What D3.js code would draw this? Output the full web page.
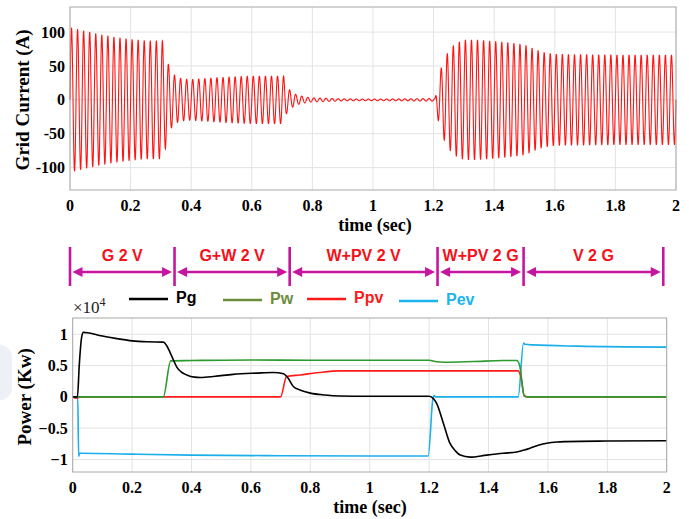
<!DOCTYPE html>
<html>
<head>
<meta charset="utf-8">
<script src="https://cdn.jsdelivr.net/npm/d3@7"></script>
<style>
  body { margin: 0; background: #fff; }
  svg { display: block; }
</style>
</head>
<body>
<svg id="chart" width="689" height="519"></svg>
<script>
// grid current envelope (A); carrier is the 50 Hz grid
const gridFreq = 50;
const envTime = [0, 0.005, 0.05, 0.1, 0.15, 0.2, 0.25, 0.305, 0.315, 0.325, 0.335, 0.35, 0.37, 0.4, 0.5, 0.6, 0.705,
  0.715, 0.73, 0.75, 0.78, 0.8, 0.9, 1.0, 1.1, 1.205, 1.215, 1.23, 1.25, 1.27, 1.3, 1.35, 1.4, 1.45, 1.5, 1.53, 1.56, 1.6, 1.8, 2.0];
const envAmp = [105, 106, 101, 96, 92, 89, 87, 87, 72, 52, 41, 34, 31, 30, 33, 35, 35,
  20, 12, 7, 4, 3, 1.5, 1.2, 1.5, 2, 30, 55, 72, 82, 88, 88, 86, 84, 81, 75, 70, 67, 66, 66];

const timeTicks = [0, 0.2, 0.4, 0.6, 0.8, 1, 1.2, 1.4, 1.6, 1.8, 2];
const currentTicks = [-100, -50, 0, 50, 100];
const powerTicks = [-1, -0.5, 0, 0.5, 1];

// power curves, x10^4 kW
const pgData = [[0,0],[0.016,0],[0.022,0.5],[0.03,0.95],[0.036,1.03],[0.05,1.025],[0.09,0.98],[0.15,0.93],[0.2,0.895],
  [0.25,0.88],[0.305,0.875],[0.315,0.83],[0.327,0.72],[0.34,0.58],[0.35,0.48],[0.365,0.4],[0.384,0.35],[0.41,0.315],
  [0.43,0.31],[0.48,0.33],[0.54,0.36],[0.62,0.38],[0.675,0.39],[0.71,0.37],[0.725,0.3],[0.743,0.165],[0.765,0.11],
  [0.8,0.06],[0.85,0.03],[0.9,0.015],[1.0,0.01],[1.1,0.01],[1.2,0.01],[1.215,-0.03],[1.225,-0.1],[1.248,-0.42],
  [1.27,-0.74],[1.29,-0.87],[1.305,-0.93],[1.338,-0.963],[1.394,-0.93],[1.45,-0.9],[1.495,-0.88],[1.52,-0.85],
  [1.54,-0.82],[1.57,-0.77],[1.596,-0.74],[1.63,-0.72],[1.663,-0.714],[1.8,-0.705],[2.0,-0.70]];
const pwData = [[0,0],[0.305,0],[0.33,0.575],[0.4,0.58],[0.6,0.59],[0.8,0.585],[1.0,0.585],[1.2,0.585],[1.225,0.56],
  [1.25,0.554],[1.35,0.565],[1.45,0.58],[1.495,0.58],[1.505,0.5],[1.52,0.02],[1.53,0],[2,0]];
const ppvData = [[0,0],[0.01,-0.02],[0.02,-0.01],[0.03,0],[0.7,0],[0.72,0.325],[0.765,0.35],[0.83,0.39],[0.9,0.415],
  [1.2,0.415],[1.5,0.415],[1.51,0.3],[1.52,0.02],[1.53,0],[2,0]];
const pevData = [[0,0],[0.017,0],[0.02,-0.95],[0.023,-0.9],[0.03,-0.9],[0.2,-0.915],[0.4,-0.93],[0.7,-0.94],[1.0,-0.945],
  [1.197,-0.945],[1.213,-0.02],[1.217,0.02],[1.222,0],[1.5,0],[1.518,0.86],[1.523,0.84],[1.55,0.83],[1.7,0.81],[2,0.795]];

const seriesNames = ["Pg", "Pw", "Ppv", "Pev"];

// operating modes along the time axis
const modeLabels = ["G 2 V", "G+W 2 V", "W+PV 2 V", "W+PV 2 G", "V 2 G"];
const modeBounds = [0, 0.345, 0.725, 1.213, 1.497, 1.958];

const svg = d3.select("#chart");
const serif = "'Liberation Serif', 'Times New Roman', serif";
const sans = "'Liberation Sans', Arial, sans-serif";
const gridColor = "#e3e3e3";
const boxColor = "#a8a8a8";

function drawFrame(x, y, yTicks, yFmt, tickBase) {
  const g = svg.append("g");
  const [x0, x1] = x.range();
  const [y0, y1] = y.range();
  g.append("rect").attr("x", x0).attr("y", y1).attr("width", x1 - x0).attr("height", y0 - y1).attr("fill", "#fff");
  g.selectAll(".vg").data(timeTicks).enter().append("line")
    .attr("x1", d => x(d)).attr("x2", d => x(d)).attr("y1", y1).attr("y2", y0)
    .attr("stroke", gridColor).attr("stroke-width", 1);
  g.selectAll(".hg").data(yTicks).enter().append("line")
    .attr("x1", x0).attr("x2", x1).attr("y1", d => y(d)).attr("y2", d => y(d))
    .attr("stroke", gridColor).attr("stroke-width", 1);
  // tick labels
  g.selectAll(".xt").data(timeTicks).enter().append("text")
    .attr("x", d => x(d)).attr("y", tickBase)
    .attr("text-anchor", "middle")
    .style("font-family", serif).style("font-weight", "bold").style("font-size", "16px")
    .text(d => d3.format("~g")(d));
  g.selectAll(".yt").data(yTicks).enter().append("text")
    .attr("x", x0 - 5).attr("y", d => y(d)).attr("dy", "0.35em")
    .attr("text-anchor", "end")
    .style("font-family", serif).style("font-weight", "bold").style("font-size", "16px")
    .text(yFmt);
  return g;
}

function drawBox(x, y) {
  const [x0, x1] = x.range();
  const [y0, y1] = y.range();
  svg.append("rect").attr("x", x0).attr("y", y1).attr("width", x1 - x0).attr("height", y0 - y1)
    .attr("fill", "none").attr("stroke", boxColor).attr("stroke-width", 1);
}

// faint watermark at left edge of the lower panel
svg.append("rect").attr("x", -14).attr("y", 345).attr("width", 26).attr("height", 55).attr("rx", 12)
  .attr("fill", "#eef0f8");

// ---------- top: grid current ----------
const xTop = d3.scaleLinear().domain([0, 2]).range([70, 676]);
const yTop = d3.scaleLinear().domain([-133, 137]).range([190, 7]);
drawFrame(xTop, yTop, currentTicks, d => d, 211);

const envelope = d3.scaleLinear().domain(envTime).range(envAmp);
const waveTimes = d3.range(0, 2.00001, 0.0004);
const wave = waveTimes.map(t => [t, envelope(t) * Math.sin(2 * Math.PI * gridFreq * t)]);
svg.append("path")
  .datum(wave)
  .attr("fill", "none")
  .attr("stroke", "#ff1414")
  .attr("stroke-width", 1.1)
  .attr("d", d3.line().x(d => xTop(d[0])).y(d => yTop(d[1])));
drawBox(xTop, yTop);

svg.append("text")
  .attr("transform", `translate(29,${yTop(0)}) rotate(-90)`)
  .attr("text-anchor", "middle")
  .style("font-family", serif).style("font-weight", "bold").style("font-size", "19px")
  .text("Grid Current (A)");
svg.append("text")
  .attr("x", 375).attr("y", 231)
  .attr("text-anchor", "middle")
  .style("font-family", serif).style("font-weight", "bold").style("font-size", "18px")
  .text("time (sec)");

// ---------- mode annotation ----------
const magenta = "#c4169e";
const ann = svg.append("g");
ann.selectAll(".bound").data(modeBounds).enter().append("line")
  .attr("x1", d => xTop(d)).attr("x2", d => xTop(d))
  .attr("y1", 247).attr("y2", 286)
  .attr("stroke", magenta).attr("stroke-width", 2.6);
const arrowY = 272;
modeLabels.forEach((label, i) => {
  const a = xTop(modeBounds[i]) + 2.5;
  const b = xTop(modeBounds[i + 1]) - 2.5;
  ann.append("line").attr("x1", a + 6).attr("x2", b - 6).attr("y1", arrowY).attr("y2", arrowY)
    .attr("stroke", magenta).attr("stroke-width", 2.6);
  ann.append("path").attr("d", `M${a},${arrowY}L${a + 10},${arrowY - 5}L${a + 10},${arrowY + 5}Z`).attr("fill", magenta);
  ann.append("path").attr("d", `M${b},${arrowY}L${b - 10},${arrowY - 5}L${b - 10},${arrowY + 5}Z`).attr("fill", magenta);
  ann.append("text")
    .attr("x", (a + b) / 2).attr("y", 261)
    .attr("text-anchor", "middle")
    .style("font-family", sans).style("font-weight", "bold").style("font-size", "16px")
    .attr("fill", "#f5101a")
    .text(label);
});

// ---------- bottom: power ----------
const xBot = d3.scaleLinear().domain([0, 2]).range([72.7, 666.7]);
const yBot = d3.scaleLinear().domain([-1.2, 1.26]).range([472, 318]);
drawFrame(xBot, yBot, powerTicks, d => d3.format("~g")(d), 493);

const lineColors = { Pg: "#000000", Pw: "#2b9a2f", Ppv: "#ff1a1a", Pev: "#1aaeea" };
const legendColors = { Pg: "#000000", Pw: "#6c8d3c", Ppv: "#ff1a1a", Pev: "#1ab3f0" };
const seriesData = { Pg: pgData, Pw: pwData, Ppv: ppvData, Pev: pevData };
const powerLine = d3.line().x(d => xBot(d[0])).y(d => yBot(d[1])).curve(d3.curveMonotoneX);

["Pev", "Ppv", "Pw", "Pg"].forEach(name => {
  svg.append("path")
    .datum(seriesData[name])
    .attr("fill", "none")
    .attr("stroke", lineColors[name])
    .attr("stroke-width", 1.6)
    .attr("d", powerLine);
});
drawBox(xBot, yBot);

svg.append("text")
  .attr("transform", `translate(31,${yBot(0)}) rotate(-90)`)
  .attr("text-anchor", "middle")
  .style("font-family", serif).style("font-weight", "bold").style("font-size", "19px")
  .text("Power (Kw)");
svg.append("text")
  .attr("x", 370).attr("y", 513)
  .attr("text-anchor", "middle")
  .style("font-family", serif).style("font-weight", "bold").style("font-size", "18px")
  .text("time (sec)");

const expo = svg.append("text")
  .attr("x", 73).attr("y", 313)
  .style("font-family", serif).style("font-size", "17px").attr("fill", "#222");
expo.append("tspan").text("\u00d710");
expo.append("tspan").attr("dy", -7).style("font-size", "12px").text("4");

// legend
const legendX = { Pg: 129, Pw: 223, Ppv: 307, Pev: 399 };
const legendY = { Pg: 299, Pw: 300, Ppv: 299, Pev: 301 };
seriesNames.forEach(name => {
  const lg = svg.append("g");
  lg.append("line")
    .attr("x1", legendX[name]).attr("x2", legendX[name] + 39)
    .attr("y1", legendY[name]).attr("y2", legendY[name])
    .attr("stroke", legendColors[name]).attr("stroke-width", 2.4);
  lg.append("text")
    .attr("x", legendX[name] + 47).attr("y", legendY[name] + 4)
    .style("font-family", sans).style("font-weight", "bold").style("font-size", "16px")
    .attr("fill", legendColors[name])
    .text(name);
});
</script>
</body>
</html>
